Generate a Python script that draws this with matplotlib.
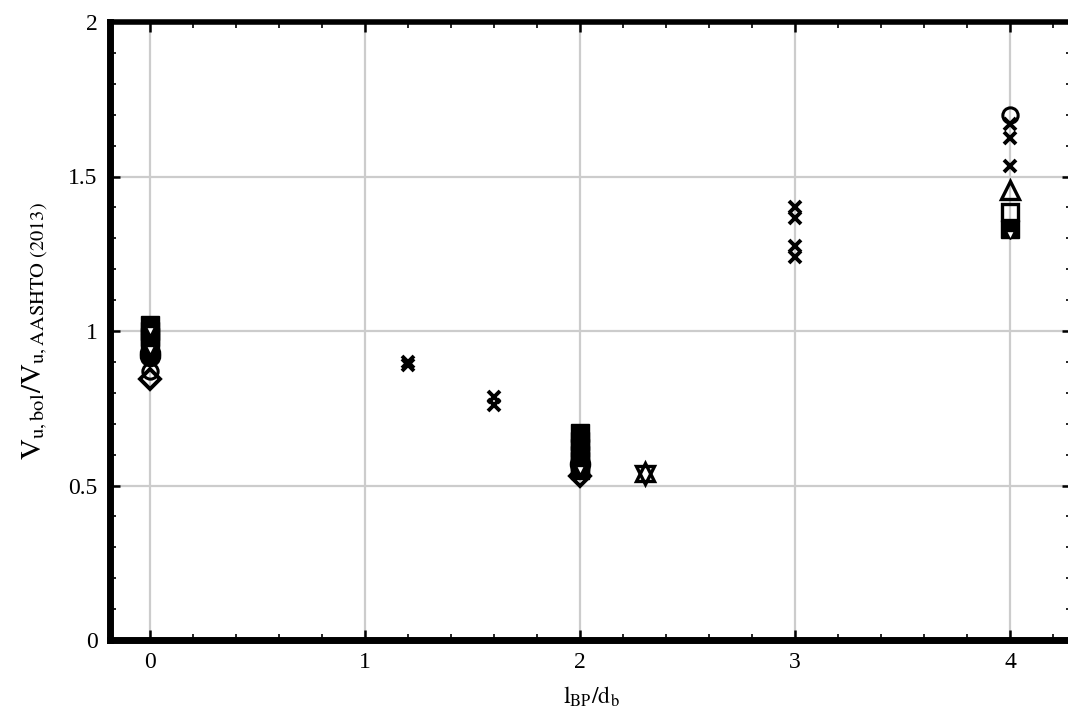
import matplotlib
matplotlib.use("Agg")
import matplotlib.pyplot as plt
from matplotlib.ticker import MultipleLocator

plt.rcParams['font.family'] = ['Liberation Serif', 'DejaVu Serif']
plt.rcParams['mathtext.fontset'] = 'stix'

# --- data (x = l_BP/d_b, y = Vu,bolt / Vu,AASHTO) ---
sq_fill_x = [0, 0, 0, 0, 2, 2, 2, 2, 2, 2, 2, 4]
sq_fill_y = [1.02, 1.00, 0.98, 0.96, 0.67, 0.645, 0.62, 0.60, 0.58, 0.56, 0.55, 1.33]

tri_dn_x = [0, 0, 2, 4]
tri_dn_y = [1.00, 0.94, 0.55, 1.31]

circ_fill_x = [0, 0, 2]
circ_fill_y = [0.93, 0.92, 0.57]

circ_open_x = [0, 4]
circ_open_y = [0.87, 1.70]

diam_x = [0, 2]
diam_y = [0.845, 0.53]

cross_x = [1.2, 1.2, 1.6, 1.6, 3, 3, 3, 3, 4, 4, 4]
cross_y = [0.90, 0.89, 0.785, 0.76, 1.40, 1.365, 1.275, 1.24, 1.67, 1.625, 1.535]

tri_up_x = [4, 2.3]
tri_up_y = [1.455, 0.545]

star_dn_x = [2.3]
star_dn_y = [0.535]

sq_open_x = [4]
sq_open_y = [1.385]

xticks = [0, 1, 2, 3, 4]
yticks = [0, 0.5, 1, 1.5, 2]

fig = plt.figure(figsize=(10.68, 7.26), dpi=100)
ax = fig.add_axes([110 / 1068, 86 / 726, 962 / 1068, 618 / 726])

ax.grid(True, color='#cccccc', lw=1.6, zorder=0)
ax.set_axisbelow(True)

kw = dict(linestyle='none', color='black', markeredgecolor='black', zorder=3)
ax.plot(sq_fill_x, sq_fill_y, marker='s', markersize=13, **kw)
ax.plot(circ_fill_x, circ_fill_y, marker='o', markersize=14, markeredgewidth=1.5, **kw)
ax.plot(diam_x, diam_y, marker='D', markersize=10, markerfacecolor='none', markeredgewidth=2.8, **kw)
ax.plot(circ_open_x, circ_open_y, marker='o', markersize=11, markerfacecolor='none', markeredgewidth=2.2, **kw)
ax.plot(tri_dn_x, tri_dn_y, marker='v', markersize=6, markerfacecolor='white', markeredgewidth=1.0, **kw)
ax.plot(cross_x, cross_y, marker='x', markersize=8, markeredgewidth=2.8, **kw)
ax.plot(tri_up_x, tri_up_y, marker='^', markersize=13, markerfacecolor='none', markeredgewidth=2.4, **kw)
ax.plot(star_dn_x, star_dn_y, marker='v', markersize=13, markerfacecolor='none', markeredgewidth=2.4, **kw)
ax.plot(sq_open_x, sq_open_y, marker='s', markersize=12, markerfacecolor='none', markeredgewidth=2.4, **kw)

ax.set_xlim(-0.186, 4.288)
ax.set_ylim(0, 2)
ax.set_xticks(xticks)
ax.set_yticks(yticks)
ax.set_xticklabels(['0', '1', '2', '3', '4'])
ax.set_yticklabels(['0', '0.5', '1', '1.5', '2'])
ax.xaxis.set_minor_locator(MultipleLocator(0.2))
ax.yaxis.set_minor_locator(MultipleLocator(0.1))
ax.tick_params(which='both', direction='in', top=True, right=True, labelsize=17)
ax.tick_params(which='major', length=7, width=1.8, pad=9)
ax.tick_params(which='minor', length=4, width=1.2)

for side in ['left', 'bottom']:
    ax.spines[side].set_linewidth(5)
ax.spines['top'].set_linewidth(4)
ax.spines['right'].set_linewidth(4)

ax.set_xlabel(r'$\mathrm{l_{BP}/d_b}$', fontsize=17, labelpad=8)
ax.set_ylabel(r'$\mathrm{V_{u,bol}/V_{u,AASHTO\ (2013)}}$', fontsize=21, labelpad=12)

fig.savefig('out.png', dpi=100)
